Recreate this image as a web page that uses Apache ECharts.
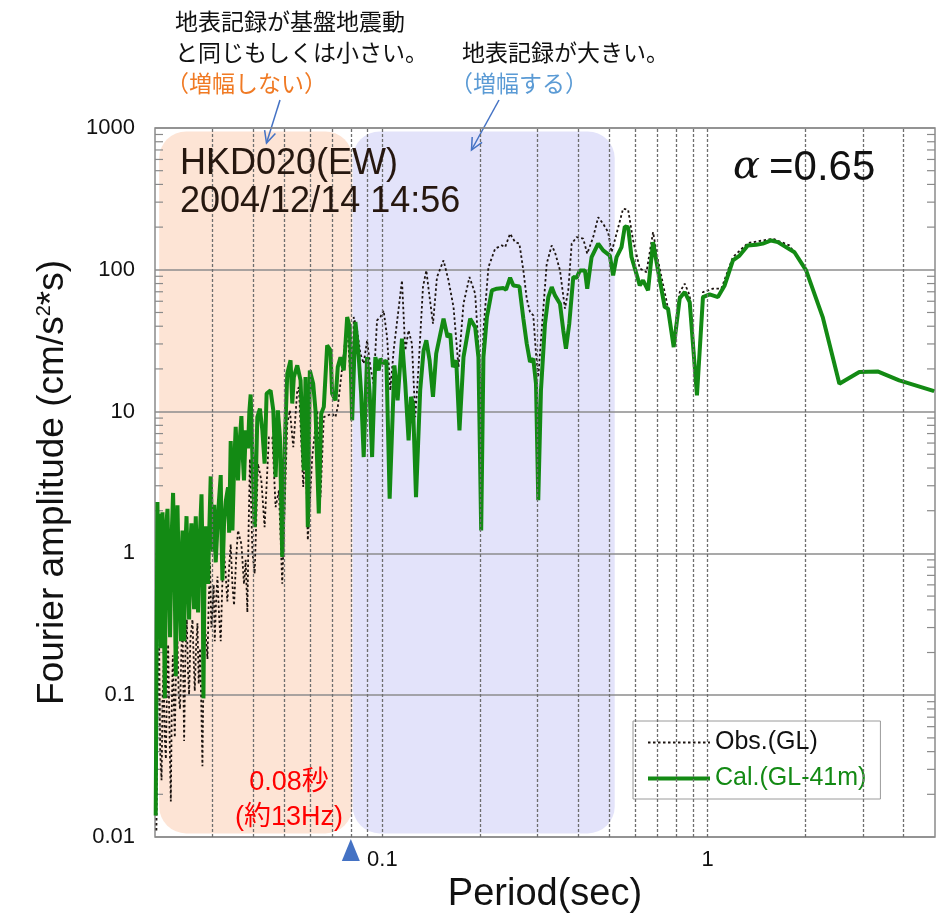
<!DOCTYPE html>
<html><head><meta charset="utf-8">
<script src="https://cdn.jsdelivr.net/npm/echarts@6/dist/echarts.min.js"></script>
<style>html,body{margin:0;padding:0;background:#fff}#c{width:947px;height:921px}</style>
</head><body><div id="c"></div>
<script>
// Obs.(GL) : period (s) and Fourier amplitude
const obsPeriod = [0.0202,0.0204,0.0206,0.02075,0.02095,0.0211,0.02125,0.02142,0.0216,0.02178,0.02195,0.02215,0.02237,0.02252,0.02269,0.02285,0.02301,0.0232,0.02345,0.02365,0.02388,0.0241,0.0243,0.02445,0.02458,0.0248,0.02505,0.02525,0.02546,0.0257,0.02608,0.0263,0.0265,0.02675,0.02701,0.02725,0.02751,0.02775,0.02798,0.0282,0.02844,0.0287,0.029,0.02925,0.02953,0.0298,0.03004,0.0303,0.03053,0.0308,0.03112,0.0315,0.03185,0.0322,0.03259,0.033,0.03338,0.0338,0.03418,0.0346,0.035,0.0355,0.03599,0.03687,0.03755,0.038,0.03846,0.0388,0.03917,0.03985,0.0405,0.04145,0.04246,0.04345,0.04479,0.04589,0.04697,0.04808,0.04923,0.05101,0.05196,0.05323,0.05474,0.05539,0.05712,0.05805,0.059,0.06086,0.06305,0.06453,0.06607,0.07009,0.07175,0.07293,0.07795,0.08075,0.08166,0.08363,0.08561,0.08763,0.08975,0.09188,0.094,0.0963,0.0986,0.1009,0.1034,0.1058,0.1083,0.1114,0.1149,0.1176,0.1204,0.1233,0.1262,0.1292,0.1333,0.1365,0.1397,0.1431,0.1472,0.1542,0.1597,0.1655,0.1714,0.1776,0.1853,0.1929,0.1998,0.2019,0.2045,0.2119,0.2222,0.2329,0.2385,0.247,0.2559,0.2638,0.2713,0.2779,0.2844,0.2911,0.2967,0.3015,0.3089,0.3201,0.3316,0.3394,0.3516,0.3642,0.3728,0.382,0.3957,0.4145,0.4264,0.4448,0.4608,0.4773,0.4944,0.5066,0.5248,0.5497,0.5695,0.5901,0.6185,0.6486,0.6795,0.7038,0.7469,0.7865,0.8207,0.8502,0.8807,0.9272,0.9674,1.0383,1.1016,1.196,1.329,1.586,1.785,2.008,2.258,2.541,2.926,3.33,3.88,4.97];
const obsAmp = [0.0111,0.12,0.228,0.04,0.0251,0.09,0.16,0.05,0.0355,0.12,0.228,0.06,0.0178,0.08,0.191,0.09,0.0504,0.15,0.24,0.1,0.0799,0.2,0.321,0.12,0.0475,0.2,0.342,0.15,0.101,0.25,0.342,0.18,0.107,0.22,0.321,0.12,0.214,0.09,0.0316,0.15,0.321,0.25,0.18,0.45,0.864,0.3,0.405,0.6,0.24,0.45,0.688,0.35,0.24,0.6,1.03,0.7,0.459,0.8,1.16,0.6,0.43,0.9,1.45,1.16,0.608,0.9,0.384,1.5,4.63,1.03,0.719,4.29,3.27,1.53,6.61,6.61,2.12,2.78,0.611,8.22,10.2,5.62,14.1,14.9,2.94,6.26,1.24,4.78,10.2,2.49,9.15,9.67,9.15,10.8,41.7,10.8,46.4,37.4,25.6,21.8,31.8,20.6,15.7,44.0,46.4,51.7,33.5,14.1,27.0,46.4,84.2,27.0,37.4,30.1,9.15,20.6,75.5,99,64.2,41.7,88.9,116.5,84.2,54.6,20.6,57.7,88.9,67.9,18.5,10.2,37.4,104.5,141,148.6,144.6,179.7,156.8,153,99,62.5,50.3,47.7,25.6,17.5,37.4,110.4,148.6,133,99,53.2,71.6,153,170,165.7,129.9,170,235,211,184.5,133,179.7,269.8,265.4,161,102.3,96.3,184.5,116.5,60.8,31.8,69.6,79.8,66.0,14.9,69.6,73.6,73.6,123,154.3,165.7,148.6,99,46.4,15.7,19.0,19.2,16.6,13.95];

// Cal.(GL-41m)
const calPeriod = [0.0201,0.02035,0.0205,0.02065,0.02084,0.02096,0.02109,0.02125,0.02144,0.02163,0.02185,0.02205,0.02225,0.0225,0.02273,0.02295,0.02317,0.0233,0.02345,0.0237,0.02401,0.02415,0.0243,0.02445,0.02458,0.0248,0.025,0.0252,0.02546,0.0257,0.02589,0.0261,0.02638,0.02655,0.02669,0.0269,0.02713,0.0275,0.0278,0.028,0.02818,0.0284,0.02864,0.0289,0.02911,0.0294,0.02967,0.0299,0.03015,0.0304,0.03074,0.0313,0.03185,0.032,0.03223,0.0326,0.033,0.03354,0.0338,0.03418,0.0346,0.035,0.03541,0.03599,0.0364,0.03687,0.0372,0.03755,0.03801,0.03863,0.039,0.03937,0.03985,0.0405,0.04127,0.04204,0.04276,0.04345,0.04407,0.04533,0.04621,0.04697,0.04773,0.04842,0.04923,0.05004,0.05101,0.05221,0.05284,0.05344,0.05474,0.05604,0.05736,0.05805,0.059,0.05984,0.06129,0.06229,0.06376,0.06486,0.06607,0.06766,0.06926,0.07009,0.07175,0.07293,0.07434,0.0761,0.07795,0.07939,0.08075,0.08264,0.0846,0.08605,0.08763,0.08975,0.09143,0.09299,0.09517,0.09743,0.0986,0.1009,0.1029,0.1053,0.1089,0.1114,0.1149,0.1176,0.1204,0.1225,0.1242,0.1269,0.1307,0.1339,0.1365,0.1397,0.1431,0.1464,0.1542,0.1586,0.1617,0.1648,0.1687,0.1726,0.1776,0.1862,0.1929,0.1974,0.2013,0.2045,0.2096,0.2171,0.2249,0.2356,0.2401,0.247,0.2528,0.2638,0.2713,0.2779,0.2844,0.2911,0.2967,0.3015,0.3073,0.3162,0.3237,0.3316,0.3394,0.3516,0.3599,0.3668,0.3755,0.3863,0.3957,0.405,0.4195,0.4264,0.4398,0.4608,0.4773,0.5004,0.5122,0.5248,0.5436,0.5564,0.5695,0.5834,0.6185,0.6331,0.6559,0.6795,0.7038,0.7379,0.7553,0.7865,0.8207,0.8502,0.8807,0.9272,0.9674,1.014,1.0755,1.128,1.196,1.2535,1.329,1.411,1.478,1.568,1.643,1.849,2.008,2.258,2.541,2.926,3.33,3.88,4.97];
const calAmp = [0.0142,2.3,0.5,1.9,0.214,1.2,1.95,0.6,0.095,1.5,2.06,0.7,0.256,1.3,2.67,0.9,0.136,1.0,2.18,0.6,0.24,0.9,1.45,0.5,0.24,1.1,1.83,0.8,0.342,1.2,1.63,0.7,0.405,1.1,1.83,0.9,0.384,1.4,2.61,0.9,0.095,0.8,1.55,1.0,0.608,1.6,3.49,1.6,1.03,2.2,0.864,2.0,3.57,1.5,0.645,1.6,2.33,2.92,1.4,6.19,1.45,4.0,7.81,3.27,6.0,9.3,5.0,3.27,7.37,5.51,10.0,13.2,4.78,1.53,9.15,10.5,7.37,4.29,13.4,14.1,10.2,3.45,10.2,6.61,0.942,5.32,18.5,23.0,11.4,17.5,21.2,16.6,3.85,17.5,1.53,19.5,15.7,10.2,1.91,9.67,10.8,29.3,27.0,13.4,12.0,20.6,24.2,19.5,46.4,39.4,8.67,42.8,24.2,13.4,4.78,24.2,13.4,4.78,24.2,19.5,23.6,21.8,23.0,2.43,21.2,12.0,32.7,15.7,6.26,12.7,11.4,2.49,14.1,27.0,31.8,23.0,12.7,25.6,45.2,33.5,35.4,20.6,23.0,7.37,24.2,45.2,39.4,24.2,1.45,24.2,46.4,71.6,73.6,74.3,72.4,88.0,77.6,76.4,45.2,30.1,22.4,23.6,15.7,2.37,14.1,41.7,64.2,75.5,66.0,57.7,37.4,27.8,41.7,88.9,88.0,99,99,73.6,123,153,137,126,91.3,123,144.6,202,200,123,77.6,84.2,71.6,156.8,99,54.6,53.2,28.5,62.9,69.6,59.2,13.0,64.2,67.1,64.2,77.6,116.5,126,148.6,150,153,161,156.8,133,99,46.4,15.7,19.0,19.2,16.6,13.95];

// axes
const xMin = 0.02, xMax = 5, yMin = 0.01, yMax = 1000;
const xTickLabels = ['0.1', '1'];
const xGridValues = [0.03,0.04,0.05,0.06,0.07,0.08,0.09,0.1,0.2,0.3,0.4,0.5,0.6,0.7,0.8,0.9,1,2,3,4];
const yMinorValues = [0.02,0.03,0.04,0.05,0.06,0.07,0.08,0.09,0.2,0.3,0.4,0.5,0.6,0.7,0.8,0.9,2,3,4,5,6,7,8,9,20,30,40,50,60,70,80,90,200,300,400,500,600,700,800,900];
// shaded bands (period ranges)
const bandFrom = [0.0206, 0.0811];
const bandTo = [0.0809, 0.518];
const bandTop = [946, 946];
const bandBottom = [0.0106, 0.0106];
const markerPeriod = 0.08;

const bandColors = ['#fde4d5', '#e3e3fa'];
const GREEN = '#138a14';
const OBS = '#1c1410';
const LATIN = '"Liberation Sans", Arial, sans-serif';
const JP = '"Noto Sans CJK JP", sans-serif';

function arrow(x1, y1, x2, y2) {
  const a = Math.atan2(y2 - y1, x2 - x1), L = 13, s = 0.45;
  const p1 = [x2 - L * Math.cos(a - s), y2 - L * Math.sin(a - s)];
  const p2 = [x2 - L * Math.cos(a + s), y2 - L * Math.sin(a + s)];
  const st = { stroke: '#4472c4', lineWidth: 1.5, fill: null };
  return [
    { type: 'line', shape: { x1, y1, x2, y2 }, style: st, silent: true },
    { type: 'polyline', shape: { points: [p1, [x2, y2], p2] }, style: st, silent: true }
  ];
}

const chart = echarts.init(document.getElementById('c'), null, { renderer: 'canvas' });
const option = {
  animation: false,
  backgroundColor: '#fff',
  grid: { left: 155, right: 12, top: 128, bottom: 84, show: true, borderColor: '#8a8a8a', borderWidth: 1.5, backgroundColor: 'transparent' },
  xAxis: {
    type: 'log', logBase: 10, min: xMin, max: xMax,
    axisLine: { show: false }, axisTick: { show: false }, splitLine: { show: false },
    axisLabel: {
      fontSize: 22, color: '#111', fontFamily: LATIN, margin: 12,
      formatter: v => { const s = String(+(+v).toPrecision(3)); return xTickLabels.includes(s) ? s : ''; }
    },
    name: 'Period(sec)', nameLocation: 'middle', nameGap: 30,
    nameTextStyle: { fontSize: 38, color: '#111', fontFamily: LATIN }
  },
  yAxis: {
    type: 'log', logBase: 10, min: yMin, max: yMax,
    axisLine: { show: false }, axisTick: { show: false },
    splitLine: { show: true, lineStyle: { color: '#8c8c8c', width: 1.5 } },
    axisLabel: {
      fontSize: 22, color: '#111', fontFamily: LATIN, margin: 20,
      formatter: v => String(+(+v).toPrecision(2))
    },
    name: 'Fourier amplitude (cm/s{sup|2}*s)', nameLocation: 'middle', nameGap: 84,
    nameTextStyle: { fontSize: 37, color: '#111', fontFamily: LATIN,
      rich: { sup: { fontSize: 20, color: '#111', fontFamily: LATIN, verticalAlign: 'top' } } }
  },
  legend: {
    left: 633, top: 721, orient: 'vertical',
    backgroundColor: '#fff', borderColor: '#9a9a9a', borderWidth: 1,
    padding: [9, 14, 8, 13], itemGap: 11, itemWidth: 62, itemHeight: 14,
    itemStyle: { opacity: 0 },
    textStyle: { fontSize: 25, color: '#111', fontFamily: LATIN },
    data: [
      { name: 'Obs.(GL)', lineStyle: { color: OBS, width: 1.8, type: [2.5, 2.5] } },
      { name: 'Cal.(GL-41m)', textStyle: { color: GREEN }, lineStyle: { color: GREEN, width: 4 } }
    ]
  },
  graphic: [
    { type: 'text', x: 175, y: 21, style: { text: '地表記録が基盤地震動', font: '23px ' + JP, fill: '#111', verticalAlign: 'middle' } },
    { type: 'text', x: 175, y: 52, style: { text: 'と同じもしくは小さい。', font: '23px ' + JP, fill: '#111', verticalAlign: 'middle' } },
    { type: 'text', x: 166, y: 83, style: { text: '（増幅しない）', font: '23px ' + JP, fill: '#f07a24', verticalAlign: 'middle' } },
    { type: 'text', x: 462, y: 52, style: { text: '地表記録が大きい。', font: '23px ' + JP, fill: '#111', verticalAlign: 'middle' } },
    { type: 'text', x: 450, y: 83, style: { text: '（増幅する）', font: '23px ' + JP, fill: '#5b9bd5', verticalAlign: 'middle' } },
    ...arrow(280, 100, 266.5, 143),
    ...arrow(499, 100, 471.5, 150),
    { type: 'text', x: 180, y: 164, z: 50, style: { text: 'HKD020(EW)', font: '36px ' + LATIN, fill: '#26170f', verticalAlign: 'middle' } },
    { type: 'text', x: 180, y: 202, z: 50, style: { text: '2004/12/14 14:56', font: '36px ' + LATIN, fill: '#26170f', verticalAlign: 'middle' } },
    { type: 'text', x: 733, y: 168, z: 50, style: { text: '{a|α}{b|=0.65}', verticalAlign: 'middle',
        rich: { a: { fontSize: 40, fontStyle: 'italic', fontFamily: '"DejaVu Serif", serif', fill: '#111', color: '#111', padding: [0, 9, 0, 0] },
                b: { fontSize: 42, fontFamily: LATIN, fill: '#111', color: '#111' } } } },
    { type: 'text', x: 289, y: 783, z: 50, style: { text: '0.08秒', font: '27px ' + LATIN + ', ' + JP, fill: '#ff0000', align: 'center', verticalAlign: 'middle' } },
    { type: 'text', x: 289, y: 818, z: 50, style: { text: '(約13Hz)', font: '27px ' + LATIN + ', ' + JP, fill: '#ff0000', align: 'center', verticalAlign: 'middle' } }
  ],
  series: [
    {
      type: 'custom', name: 'bands', z: -1, silent: true,
      dimensions: ['from', 'to', 'top', 'bottom'],
      encode: { x: ['from', 'to'], y: ['top', 'bottom'] },
      data: bandFrom.map((f, i) => [f, bandTo[i], bandTop[i], bandBottom[i]]),
      renderItem: (params, api) => {
        const p0 = api.coord([api.value(0), api.value(2)]);
        const p1 = api.coord([api.value(1), api.value(3)]);
        return { type: 'rect', shape: { x: p0[0], y: p0[1], width: p1[0] - p0[0], height: p1[1] - p0[1], r: 27 },
                 style: { fill: bandColors[params.dataIndex] } };
      }
    },
    {
      type: 'custom', name: 'yminor', z: 1, silent: true,
      encode: { x: 0, y: 1 },
      data: yMinorValues.map(v => [xMin, v]),
      renderItem: (params, api) => {
        const v = api.value(1);
        const l = api.coord([xMin, v]), r = api.coord([xMax, v]);
        const st = { stroke: '#8a8a8a', lineWidth: 1.2 };
        return { type: 'group', children: [
          { type: 'line', shape: { x1: l[0], y1: l[1], x2: l[0] + 8, y2: l[1] }, style: st },
          { type: 'line', shape: { x1: r[0] - 8, y1: r[1], x2: r[0], y2: r[1] }, style: st }
        ] };
      }
    },
    {
      type: 'line', name: 'Obs.(GL)', z: 2, showSymbol: false, symbol: 'none',
      data: obsPeriod.map((p, i) => [p, obsAmp[i]]),
      lineStyle: { color: OBS, width: 1.8, type: [2.5, 2.5] },
      itemStyle: { color: OBS },
      markLine: {
        silent: true, symbol: 'none', label: { show: false },
        lineStyle: { color: '#6e6e6e', width: 1.3, type: [3, 2] },
        data: xGridValues.map(v => ({ xAxis: v }))
      }
    },
    {
      type: 'line', name: 'Cal.(GL-41m)', z: 3, showSymbol: false, symbol: 'none',
      data: calPeriod.map((p, i) => [p, calAmp[i]]),
      lineStyle: { color: GREEN, width: 4 },
      itemStyle: { color: GREEN },
      markPoint: {
        silent: true, symbol: 'triangle', symbolSize: [18, 22], symbolOffset: [0, 13],
        itemStyle: { color: '#4472c4' }, label: { show: false },
        data: [{ coord: [markerPeriod, yMin] }]
      }
    }
  ]
};
chart.setOption(option);
</script>
</body></html>
